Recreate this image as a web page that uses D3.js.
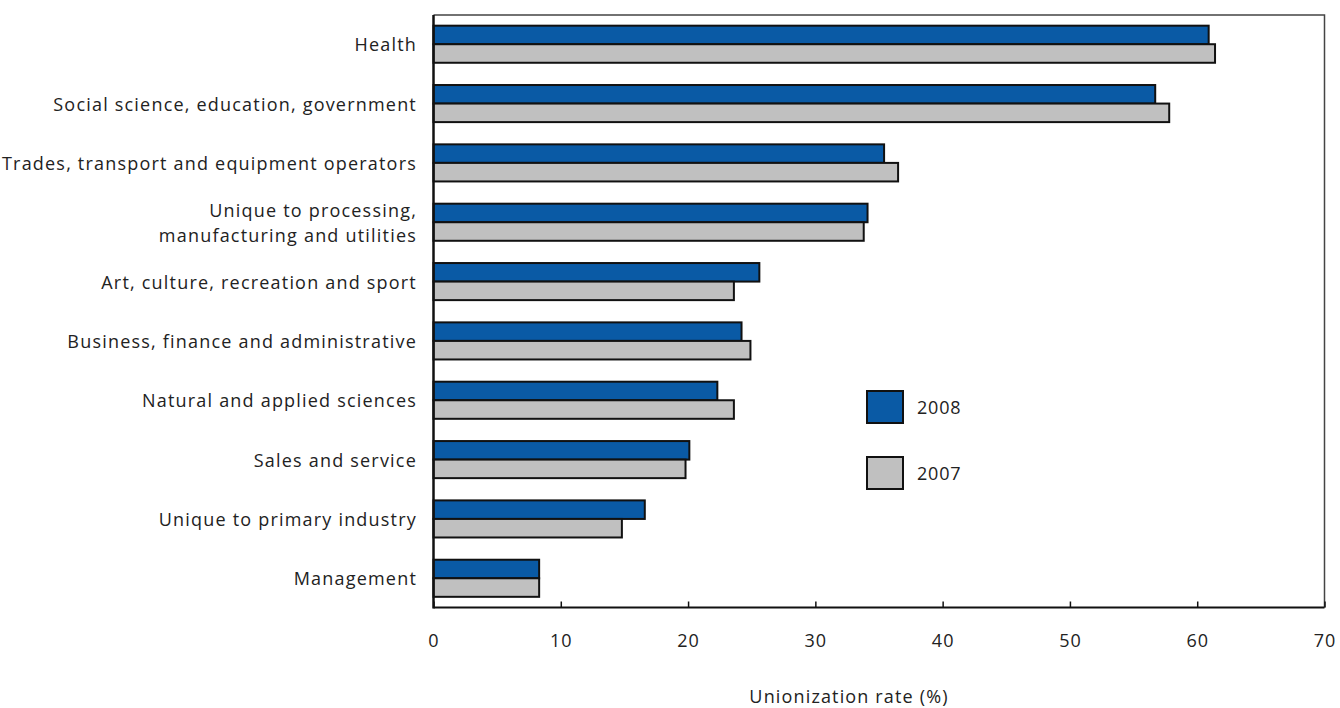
<!DOCTYPE html>
<html><head><meta charset="utf-8">
<script src="https://cdn.jsdelivr.net/npm/d3@7"></script>
<style>body{margin:0;background:#fff}svg text{font-family:"Open Sans",sans-serif;fill:#222}</style>
</head><body><svg id="c" width="1340" height="708"></svg>
<script>
const categories = ["Health","Social science, education, government","Trades, transport and equipment operators","Unique to processing,\nmanufacturing and utilities","Art, culture, recreation and sport","Business, finance and administrative","Natural and applied sciences","Sales and service","Unique to primary industry","Management"];
const values2008 = [60.9,56.7,35.4,34.1,25.6,24.2,22.3,20.1,16.6,8.3];
const values2007 = [61.4,57.8,36.5,33.8,23.6,24.9,23.6,19.8,14.8,8.3];
const seriesNames = ["2008","2007"];
const xTicks = [0,10,20,30,40,50,60,70];
const colors = ["#0a5aa5","#c0c0c0"];

const svg = d3.select("#c");
const L=433.5,R=1324.5,T=15,B=607.5;
const x = d3.scaleLinear().domain([0,70]).range([L,R]);
const y = d3.scaleBand().domain(categories).range([T,B]).paddingInner(0.375).paddingOuter(0.18);
const ys = d3.scaleBand().domain(seriesNames).range([0,y.bandwidth()]);

// frame
svg.append("path").attr("d",`M${L},${T}H${R}V${B}`).attr("fill","none").attr("stroke","#444").attr("stroke-width",1.5);

const series=[values2008,values2007];
series.forEach((vals,si)=>{
  svg.append("g").selectAll("rect").data(categories).join("rect")
    .attr("x",x(0)).attr("y",(d)=>y(d)+ys(seriesNames[si]))
    .attr("width",(d,i)=>x(vals[i])-x(0)).attr("height",ys.bandwidth())
    .attr("fill",colors[si]).attr("stroke","#111").attr("stroke-width",2);
});

// x axis
const xa = svg.append("g").attr("transform",`translate(0,${B})`)
  .call(d3.axisBottom(x).tickValues(xTicks).tickSize(-6).tickPadding(27).tickFormat(d3.format("d")));
xa.select(".domain").attr("stroke","#111").attr("stroke-width",2).attr("d",`M${L},0H${R}`);
xa.selectAll(".tick line").attr("stroke","#111").attr("stroke-width",1.5);
xa.selectAll(".tick text").attr("font-size",18).attr("fill","#222").style("letter-spacing","1px");

// left axis line
svg.append("line").attr("x1",L).attr("x2",L).attr("y1",T).attr("y2",B+1).attr("stroke","#111").attr("stroke-width",2.5);

// category labels
const lab = svg.append("g").selectAll("text").data(categories).join("text")
  .attr("text-anchor","end").attr("font-size",18).style("letter-spacing","1.2px");
lab.each(function(d){
  const lines=d.split("\n"); const t=d3.select(this);
  const cy=y(d)+y.bandwidth()/2;
  lines.forEach((ln,k)=>{
    t.append("tspan").attr("x",417).attr("y",cy+7+(k-(lines.length-1)/2)*25).text(ln);
  });
});

// axis title
svg.append("text").attr("x",849).attr("y",703).attr("text-anchor","middle").attr("font-size",18).style("letter-spacing","1.15px").text("Unionization rate (%)");

// legend
const lg = svg.append("g");
seriesNames.forEach((s,i)=>{
  lg.append("rect").attr("x",867).attr("y",391+i*66).attr("width",36).attr("height",32)
    .attr("fill",colors[i]).attr("stroke","#111").attr("stroke-width",2);
  lg.append("text").attr("x",917).attr("y",414+i*66).attr("font-size",18).style("letter-spacing","0.8px").text(s);
});
</script></body></html>
